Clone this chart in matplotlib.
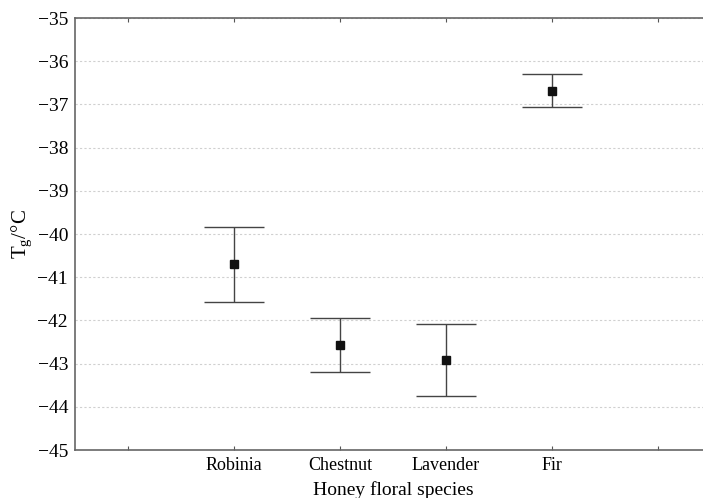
import matplotlib.pyplot as plt
import numpy as np

# Data
species = ['Robinia', 'Chestnut', 'Lavender', 'Fir']
tg_mean = [-40.70, -42.58, -42.92, -36.68]
tg_upper = [-39.83, -41.95, -42.08, -36.29]
tg_lower = [-41.57, -43.19, -43.75, -37.07]

tick_labels = ['', 'Robinia', 'Chestnut', 'Lavender', 'Fir', '']

plt.rcParams['font.family'] = ['Liberation Serif', 'DejaVu Serif']

fig = plt.figure(figsize=(7.03, 4.98), dpi=100)
ax = fig.add_axes([75 / 703, 48 / 498, 636 / 703, 432 / 498])

x = np.arange(2, 2 + len(species))
mean = np.array(tg_mean)
err = np.array([mean - np.array(tg_lower), np.array(tg_upper) - mean])

ax.errorbar(x, mean, yerr=err, fmt='s', color='#111111', ecolor='#444444',
            elinewidth=1.0, capsize=21.6, capthick=1.0, markersize=6)

ax.set_xlim(0.5, 6.5)
ax.set_ylim(-45, -35)
ax.set_xticks(np.arange(1, 7))
ax.set_xticklabels(tick_labels, fontsize=13)
ax.set_yticks(np.arange(-45, -34, 1))
ax.set_yticklabels(['\u2212%d' % abs(v) for v in range(-45, -34)], fontsize=14)

ax.tick_params(axis='x', direction='in', length=3, color='#555555', top=True, pad=5)
ax.tick_params(axis='y', length=0, pad=5)
ax.yaxis.grid(True, linestyle=(0, (2, 2)), color='#d0d0d0', linewidth=0.8)
ax.set_axisbelow(True)

for s in ['left', 'bottom', 'top']:
    ax.spines[s].set_color('#666666')
    ax.spines[s].set_linewidth(1.2)
ax.spines['right'].set_visible(False)

ax.set_xlabel('Honey floral species', fontsize=14, labelpad=5)
ax.set_ylabel(r'T$_\mathregular{g}$/°C', fontsize=15, labelpad=2)

fig.savefig('out.png', dpi=100)
